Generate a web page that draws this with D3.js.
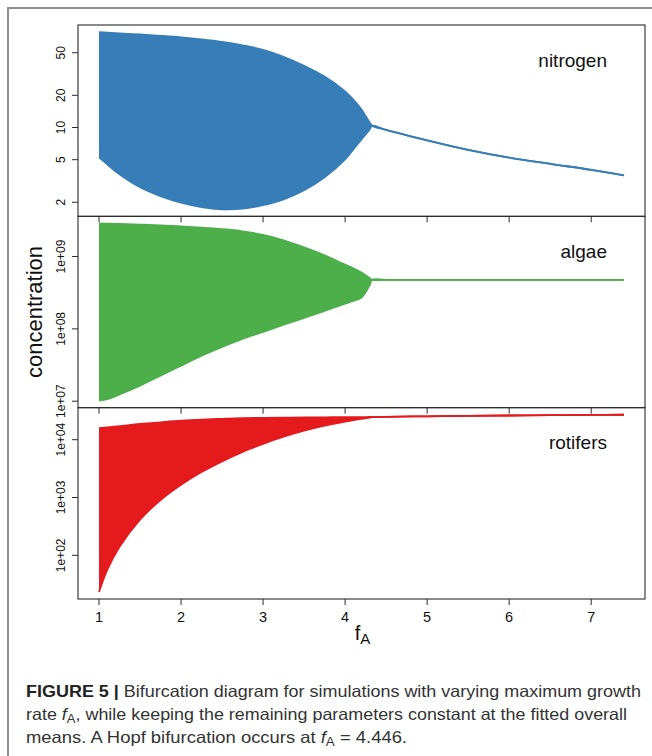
<!DOCTYPE html>
<html>
<head>
<meta charset="utf-8">
<script src="https://cdn.jsdelivr.net/npm/d3@7"></script>
<style>
  html, body { margin: 0; padding: 0; background: #fff; }
  svg { display: block; font-family: "Liberation Sans", Arial, Helvetica, sans-serif; }
</style>
</head>
<body>
<svg id="chart" width="652" height="756"></svg>
<script>
// Maximum growth rate of algae (bifurcation parameter)
const fA = [1, 1.1, 1.25, 1.5, 1.75, 2, 2.25, 2.5, 2.75, 3, 3.25, 3.5, 3.75, 4,
            4.1, 4.2, 4.3, 4.33, 4.5, 5, 5.5, 6, 6.5, 7, 7.4];

// Envelope of the long-term dynamics (min / max of the limit cycle);
// beyond the Hopf point both coincide with the stable equilibrium.
const nitrogenMax = [78.0, 77.1, 76.0, 74.1, 72.0, 69.7, 66.8, 63.3, 58.7, 53.3, 45.9, 37.8, 29.9, 21.7,
                     18.2, 14.7, 11.1, 10.4, 9.48, 7.57, 6.17, 5.22, 4.57, 4.02, 3.57];
const nitrogenMin = [5.25, 4.52, 3.65, 2.76, 2.28, 1.98, 1.80, 1.72, 1.74, 1.88, 2.13, 2.59, 3.42, 5.03,
                     6.24, 7.73, 9.58, 10.4, 9.48, 7.57, 6.17, 5.22, 4.57, 4.02, 3.57];

const algaeMax = [2.87e9, 2.85e9, 2.83e9, 2.76e9, 2.70e9, 2.61e9, 2.51e9, 2.39e9, 2.23e9, 1.99e9, 1.68e9, 1.34e9, 1.04e9, 7.72e8,
                  6.90e8, 5.99e8, 5.03e8, 4.77e8, 4.77e8, 4.77e8, 4.77e8, 4.77e8, 4.77e8, 4.77e8, 4.77e8];
const algaeMin = [1.02e7, 1.07e7, 1.24e7, 1.64e7, 2.26e7, 3.10e7, 4.25e7, 5.65e7, 7.29e7, 9.10e7, 1.14e8, 1.42e8, 1.77e8, 2.24e8,
                  2.43e8, 2.71e8, 4.03e8, 4.77e8, 4.77e8, 4.77e8, 4.77e8, 4.77e8, 4.77e8, 4.77e8, 4.77e8];

const rotiferMax = [1.59e4, 1.64e4, 1.72e4, 1.87e4, 2.00e4, 2.13e4, 2.23e4, 2.30e4, 2.35e4, 2.39e4, 2.41e4, 2.43e4, 2.44e4, 2.45e4,
                    2.46e4, 2.46e4, 2.47e4, 2.47e4, 2.49e4, 2.54e4, 2.59e4, 2.62e4, 2.66e4, 2.68e4, 2.70e4];
const rotiferMin = [23.3, 56.3, 141, 414, 906, 1663, 2753, 4210, 6163, 8466, 1.127e4, 1.43e4, 1.744e4, 2.06e4,
                    2.187e4, 2.302e4, 2.415e4, 2.47e4, 2.49e4, 2.54e4, 2.59e4, 2.62e4, 2.66e4, 2.68e4, 2.70e4];

// Axis ticks
const xTicks = [1, 2, 3, 4, 5, 6, 7];
const nitrogenTicks = [2, 5, 10, 20, 50];
const nitrogenTickLabels = ["2", "5", "10", "20", "50"];
const algaeTicks = [1e7, 1e8, 1e9];
const algaeTickLabels = ["1e+07", "1e+08", "1e+09"];
const rotiferTicks = [1e2, 1e3, 1e4];
const rotiferTickLabels = ["1e+02", "1e+03", "1e+04"];

const panelNames = ["nitrogen", "algae", "rotifers"];
const panelColors = ["#377EB8", "#4DAF4A", "#E41A1C"];

// ---------------------------------------------------------------------
const svg = d3.select("#chart");
const plot = { left: 78, right: 645, top: 25, bottom: 599 };
const panelH = (plot.bottom - plot.top) / 3;

// page frame
svg.append("rect")
  .attr("x", 8).attr("y", 8).attr("width", 720).attr("height", 820)
  .attr("fill", "none").attr("stroke", "#8f8f8f").attr("stroke-width", 2);

// R-style axis range: data range padded by 4% on each side
function padded(lo, hi) {
  const p = (hi - lo) * 0.04;
  return [lo - p, hi + p];
}

const x = d3.scaleLinear()
  .domain(padded(d3.min(fA), d3.max(fA)))
  .range([plot.left, plot.right]);

const panels = [
  { lo: nitrogenMin, hi: nitrogenMax, ticks: nitrogenTicks, labels: nitrogenTickLabels },
  { lo: algaeMin, hi: algaeMax, ticks: algaeTicks, labels: algaeTickLabels },
  { lo: rotiferMin, hi: rotiferMax, ticks: rotiferTicks, labels: rotiferTickLabels }
];

const idx = d3.range(fA.length);
const axisColor = "#2b2b2b";
const curve = d3.curveCatmullRom.alpha(0.5);

panels.forEach((p, i) => {
  const top = plot.top + i * panelH;
  const bottom = top + panelH;
  const lmin = Math.log10(d3.min(p.lo));
  const lmax = Math.log10(d3.max(p.hi));
  const [d0, d1] = padded(lmin, lmax);
  const y = d3.scaleLog().domain([10 ** d0, 10 ** d1]).range([bottom, top]);

  const g = svg.append("g");

  const area = d3.area()
    .x(j => x(fA[j]))
    .y0(j => y(p.lo[j]))
    .y1(j => y(p.hi[j]))
    .curve(curve);

  g.append("path").datum(idx)
    .attr("d", area)
    .attr("fill", panelColors[i]);

  ["hi", "lo"].forEach(k => {
    const line = d3.line()
      .x(j => x(fA[j]))
      .y(j => y(p[k][j]))
      .curve(curve);
    g.append("path").datum(idx)
      .attr("d", line)
      .attr("fill", "none")
      .attr("stroke", panelColors[i])
      .attr("stroke-width", 1.8);
  });

  // panel box
  g.append("rect")
    .attr("x", plot.left).attr("y", top)
    .attr("width", plot.right - plot.left).attr("height", panelH)
    .attr("fill", "none").attr("stroke", axisColor).attr("stroke-width", 1.1);

  // y axis ticks and labels
  p.ticks.forEach((t, k) => {
    const yy = y(t);
    g.append("line")
      .attr("x1", plot.left - 6).attr("x2", plot.left)
      .attr("y1", yy).attr("y2", yy)
      .attr("stroke", axisColor).attr("stroke-width", 1);
    g.append("text")
      .attr("transform", `translate(65,${yy}) rotate(-90)`)
      .attr("text-anchor", "middle")
      .attr("font-size", 12)
      .attr("fill", "#111")
      .text(p.labels[k]);
  });

  // series label
  g.append("text")
    .attr("x", 607).attr("y", top + 41.5)
    .attr("text-anchor", "end")
    .attr("font-size", 19)
    .attr("fill", "#111")
    .text(panelNames[i]);

  p.bottom = bottom;
});

// x ticks below each panel
panels.forEach(p => {
  xTicks.forEach(t => {
    svg.append("line")
      .attr("x1", x(t)).attr("x2", x(t))
      .attr("y1", p.bottom).attr("y2", p.bottom + 6)
      .attr("stroke", axisColor).attr("stroke-width", 1);
  });
});

// x tick labels on the bottom panel
xTicks.forEach(t => {
  svg.append("text")
    .attr("x", x(t)).attr("y", 621.5)
    .attr("text-anchor", "middle")
    .attr("font-size", 14.5)
    .attr("fill", "#111")
    .text(t);
});

// axis titles
const xTitle = svg.append("text")
  .attr("x", (plot.left + plot.right) / 2 + 1).attr("y", 640)
  .attr("text-anchor", "middle")
  .attr("fill", "#111");
xTitle.append("tspan").attr("font-size", 20).text("f");
xTitle.append("tspan").attr("font-size", 15).attr("dy", 4).text("A");

svg.append("text")
  .attr("transform", `translate(41.5,${(plot.top + plot.bottom) / 2}) rotate(-90)`)
  .attr("text-anchor", "middle")
  .attr("font-size", 22)
  .attr("fill", "#111")
  .text("concentration");

// caption
const capColor = "#333";
const cap1 = svg.append("text")
  .attr("x", 26).attr("y", 697).attr("font-size", 16.5).attr("fill", capColor)
  .attr("textLength", 615).attr("lengthAdjust", "spacingAndGlyphs");
cap1.append("tspan").attr("font-weight", "bold").attr("fill", "#222").text("FIGURE 5 |");
cap1.append("tspan").text(" Bifurcation diagram for simulations with varying maximum growth");

const cap2 = svg.append("text")
  .attr("x", 26).attr("y", 720).attr("font-size", 16.5).attr("fill", capColor)
  .attr("textLength", 601).attr("lengthAdjust", "spacingAndGlyphs");
cap2.append("tspan").text("rate ");
cap2.append("tspan").attr("font-style", "italic").text("f");
cap2.append("tspan").attr("font-size", 12).attr("dy", 3).text("A");
cap2.append("tspan").attr("dy", -3).text(", while keeping the remaining parameters constant at the fitted overall");

const cap3 = svg.append("text")
  .attr("x", 26).attr("y", 743).attr("font-size", 16.5).attr("fill", capColor)
  .attr("textLength", 381).attr("lengthAdjust", "spacingAndGlyphs");
cap3.append("tspan").text("means. A Hopf bifurcation occurs at ");
cap3.append("tspan").attr("font-style", "italic").text("f");
cap3.append("tspan").attr("font-size", 12).attr("dy", 3).text("A");
cap3.append("tspan").attr("dy", -3).text(" = 4.446.");
</script>
</body>
</html>
